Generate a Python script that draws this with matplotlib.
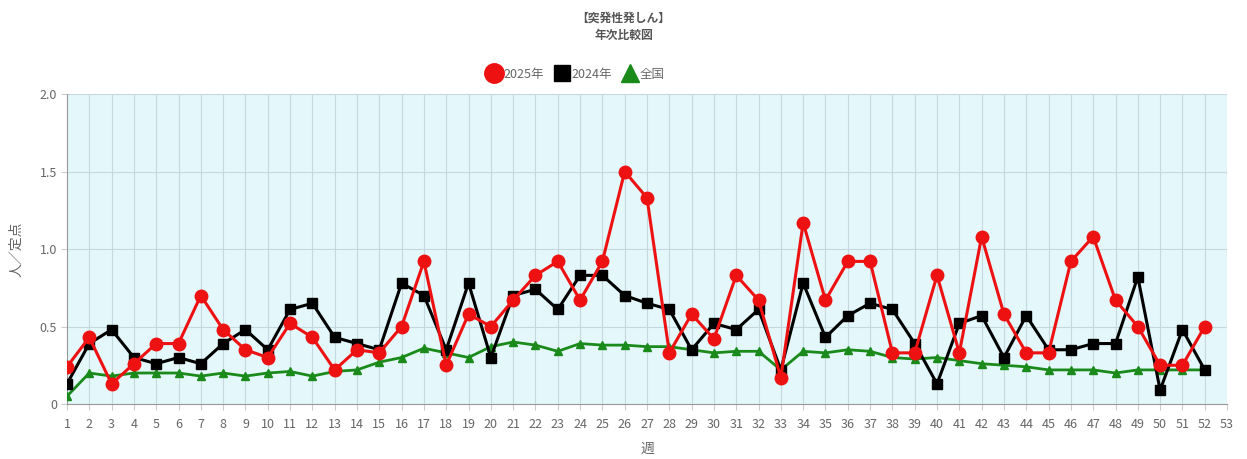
import matplotlib.pyplot as plt
import matplotlib
import numpy as np

matplotlib.rcParams['font.family'] = ['Noto Sans CJK JP', 'DejaVu Sans']

# data
weeks = list(range(1, 53))
y2025 = [0.24, 0.43, 0.13, 0.26, 0.39, 0.39, 0.70, 0.48, 0.35, 0.30,
         0.52, 0.43, 0.22, 0.35, 0.33, 0.50, 0.92, 0.25, 0.58, 0.50,
         0.67, 0.83, 0.92, 0.67, 0.92, 1.50, 1.33, 0.33, 0.58, 0.42,
         0.83, 0.67, 0.17, 1.17, 0.67, 0.92, 0.92, 0.33, 0.33, 0.83,
         0.33, 1.08, 0.58, 0.33, 0.33, 0.92, 1.08, 0.67, 0.50, 0.25,
         0.25, 0.50]
y2024 = [0.13, 0.39, 0.48, 0.30, 0.26, 0.30, 0.26, 0.39, 0.48, 0.35,
         0.61, 0.65, 0.43, 0.39, 0.35, 0.78, 0.70, 0.35, 0.78, 0.30,
         0.70, 0.74, 0.61, 0.83, 0.83, 0.70, 0.65, 0.61, 0.35, 0.52,
         0.48, 0.61, 0.22, 0.78, 0.43, 0.57, 0.65, 0.61, 0.39, 0.13,
         0.52, 0.57, 0.30, 0.57, 0.35, 0.35, 0.39, 0.39, 0.82, 0.09,
         0.48, 0.22]
national = [0.05, 0.20, 0.18, 0.20, 0.20, 0.20, 0.18, 0.20, 0.18, 0.20,
            0.21, 0.18, 0.21, 0.22, 0.27, 0.30, 0.36, 0.33, 0.30, 0.37,
            0.40, 0.38, 0.34, 0.39, 0.38, 0.38, 0.37, 0.37, 0.35, 0.33,
            0.34, 0.34, 0.22, 0.34, 0.33, 0.35, 0.34, 0.30, 0.29, 0.30,
            0.28, 0.26, 0.25, 0.24, 0.22, 0.22, 0.22, 0.20, 0.22, 0.22,
            0.22, 0.22]
labels = ['2025年', '2024年', '全国']

fig = plt.figure(figsize=(12.47, 4.59), dpi=100)
ax = fig.add_axes([0.0537, 0.1198, 0.9303, 0.6754])
ax.set_facecolor('#e4f8fc')

ax.plot(weeks, national, '-^', color='#1a8a1a', linewidth=2.0, markersize=6,
        label=labels[2], zorder=3)
ax.plot(weeks, y2024, '-s', color='black', linewidth=2.2, markersize=7,
        label=labels[1], zorder=4)
ax.plot(weeks, y2025, '-o', color='#ee1111', linewidth=2.2, markersize=9,
        label=labels[0], zorder=5)

ax.set_xlim(1, 53)
ax.set_ylim(0, 2.0)
ax.set_xticks(range(1, 54))
ax.set_yticks([0, 0.5, 1.0, 1.5, 2.0])
ax.set_yticklabels(['0', '0.5', '1.0', '1.5', '2.0'])
ax.grid(True, color='#c5d8e0', linewidth=0.8)
ax.set_axisbelow(True)
for s in ['top', 'right']:
    ax.spines[s].set_visible(False)
for s in ['left', 'bottom']:
    ax.spines[s].set_color('#999999')
ax.tick_params(axis='x', colors='#cccccc', labelcolor='#666666', labelsize=9, length=4, pad=6)
ax.tick_params(axis='y', colors='#cccccc', labelcolor='#666666', labelsize=9, length=4, pad=3)

ax.set_xlabel('週', fontsize=10, color='#666666', labelpad=8)
ax.set_ylabel('人／定点', fontsize=10, color='#666666')
ax.yaxis.set_label_coords(-0.038, 0.5)

fig.text(0.5, 0.96, '【突発性発しん】', ha='center', va='center',
         fontsize=8.5, fontweight='bold', color='#555555')
fig.text(0.5, 0.923, '年次比較図', ha='center', va='center',
         fontsize=8.5, fontweight='bold', color='#555555')

h, l = ax.get_legend_handles_labels()
order = [2, 1, 0]
leg = fig.legend([h[i] for i in order], [l[i] for i in order],
                 loc='center', bbox_to_anchor=(0.462, 0.838), ncol=3,
                 frameon=False, fontsize=9, handlelength=1.0,
                 handletextpad=0.3, columnspacing=0.9)
for t in leg.get_texts():
    t.set_color('#666666')
for lh in leg.legend_handles:
    lh.set_linestyle('none')
leg.legend_handles[0].set_markersize(14)
leg.legend_handles[1].set_markersize(11)
leg.legend_handles[2].set_markersize(13)

plt.savefig('out.png', dpi=100)
plt.close()
